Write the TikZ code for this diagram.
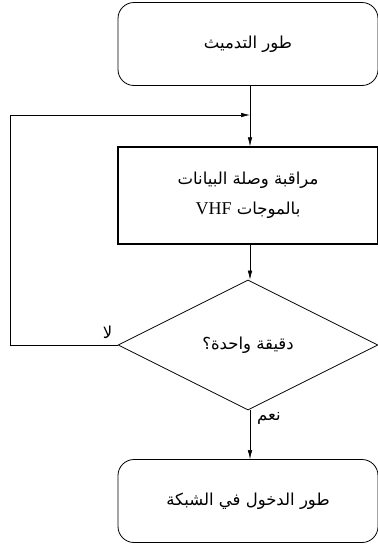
\documentclass[tikz,border=0pt]{standalone}
\usepackage{fontspec}
\usetikzlibrary{arrows.meta,shapes.geometric}
\TeXXeTstate=1
\newfontfamily\arabicfont[Script=Arabic]{DejaVu Sans}
\newfontfamily\latinfont{Liberation Serif}
\begin{document}
\begin{tikzpicture}[x=1pt,y=-1pt,
  every node/.style={font=\arabicfont\fontsize{16.5}{30}\selectfont},
  terminal/.style={draw,line width=0.8pt,rounded corners=16pt,minimum width=260pt,minimum height=83pt,inner sep=0pt},
  process/.style={draw,line width=1.4pt,minimum width=260pt,minimum height=97pt,inner sep=0pt,align=center},
  decision/.style={draw,line width=0.8pt,diamond,aspect=2,minimum width=260pt,minimum height=130pt,inner sep=0pt},
  flow/.style={line width=0.6pt,-{Latex[length=9pt,width=4.5pt]}},
  plain/.style={line width=0.6pt},
  tag/.style={inner sep=1pt}]
\useasboundingbox (0,0) rectangle (378,547);
% boxes of the flow chart
\node[terminal] (start) at (248,44) {\beginR طور التدميث\endR};
\node[process] (watch) at (248,195.5) {\beginR مراقبة وصلة البيانات\endR\\\beginR بالموجات \beginL{\latinfont\fontsize{18}{30}\selectfont VHF}\endL\endR};
\node[decision] (test) at (248,345) {\beginR دقيقة واحدة؟\endR};
\node[terminal] (net) at (248,501) {\beginR طور الدخول في الشبكة\endR};
% connectors
\coordinate (join) at (250,115);
\coordinate (corner) at (10,345);
\draw[plain] (start.south -| join) -- (join);
\draw[flow] (join) -- (watch.north -| join);
\draw[flow] (watch.south -| join) -- (test.north -| join);
\draw[flow] (test.south -| join) -- (net.north -| join);
\draw[flow] (test.west) -- (corner) -- (corner |- join) -- (join);
% branch labels
\node[tag,anchor=south east] at ([xshift=-4pt,yshift=5pt]test.west) {\beginR لا\endR};
\node[tag,anchor=north west] at ([xshift=8pt,yshift=-1pt]test.south) {\beginR نعم\endR};
\end{tikzpicture}
\end{document}
